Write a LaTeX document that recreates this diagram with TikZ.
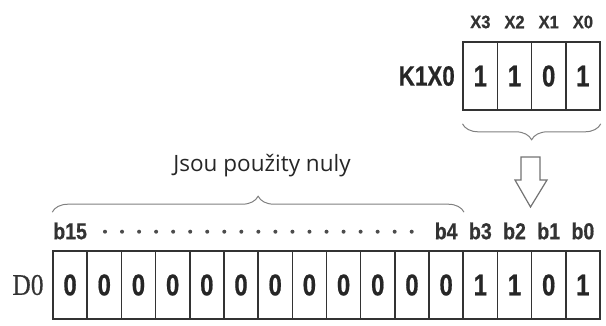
\documentclass[tikz,border=0pt]{standalone}
\usepackage{fontspec}
\usetikzlibrary{decorations.pathreplacing}
\newfontfamily\condb[FakeStretch=0.8,FakeBold=0.6]{Liberation Sans}
\newfontfamily\condlab[FakeStretch=0.85,FakeBold=0.6]{Liberation Sans}
\newfontfamily\xfont[FakeStretch=0.92,FakeBold=0.6]{Liberation Sans}
\newfontfamily\serifd[FakeStretch=0.85,FakeBold=0.4]{Liberation Serif}
\newfontfamily\textsans{Open Sans}
\begin{document}
\begin{tikzpicture}[x=1pt,y=-1pt,
  cell/.style={draw=black!80,line width=1.6pt,minimum width=34.19pt,minimum height=68pt,inner sep=0pt,
    font=\condb\bfseries\fontsize{30}{30}\selectfont,text=black!85},
  bitlab/.style={font=\condlab\bfseries\fontsize{23}{23}\selectfont,text=black!80,inner sep=0pt},
  xlab/.style={font=\xfont\bfseries\fontsize{18}{18}\selectfont,text=black!80,inner sep=0pt},
  bracest/.style={draw=black!50,line width=1pt,decorate,decoration={brace,amplitude=16pt,mirror}},
  bracestup/.style={draw=black!50,line width=1pt,decorate,decoration={brace,amplitude=16pt}},
  hollow/.style={draw=black!55,line width=1.2pt,fill=white,line join=miter}]
\useasboundingbox (0,0) rectangle (606,325);
% bottom register D0
\foreach \i/\v in {15/0,14/0,13/0,12/0,11/0,10/0,9/0,8/0,7/0,6/0,5/0,4/0,3/1,2/1,1/0,0/1}{
  \node[cell] (d\i) at ({53+(15-\i)*34.1875+17.09}, 285) {\v};
}
% top register K1X0
\foreach \i/\v in {3/1,2/1,1/0,0/1}{
  \node[cell] (k\i) at ({53+(15-\i)*34.1875+17.09}, 76) {\v};
  \node[xlab] (x\i) at ({53+(15-\i)*34.1875+17.09}, 22) {X\i};
}
\node[font=\condb\bfseries\fontsize{28}{28}\selectfont,text=black!85,anchor=east,inner sep=0pt] (k1x0) at (455,76) {K1X0};
\node[font=\serifd\fontsize{30}{30}\selectfont,text=black!80,inner sep=0pt] (d0lab) at (28,285) {D0};
% bit labels
\foreach \i in {15,4,3,2,1,0}{
  \node[bitlab] (b\i) at ({53+(15-\i)*34.1875+17.09}, 231) {b\i};
}
\foreach \k in {0,...,18}{
  \fill[black!70] ({105+\k*17.04},231.7) circle (2pt);
}
% braces
\draw[bracest] ([yshift=-13pt]k3.south west) -- ([yshift=-13pt]k0.south east);
\draw[bracestup] ([yshift=38pt]d15.north west) -- ([yshift=38pt]d4.north east);
\node[font=\textsans\fontsize{22.5}{22.5}\selectfont,text=black!85,inner sep=0pt] (zeros) at (262,166) {Jsou použity nuly};
% hollow arrow
\draw[hollow] (521,157) -- (540,157) -- (540,180) -- (547,180) -- (530.5,207) -- (515,180) -- (521,180) -- cycle;
\end{tikzpicture}
\end{document}
